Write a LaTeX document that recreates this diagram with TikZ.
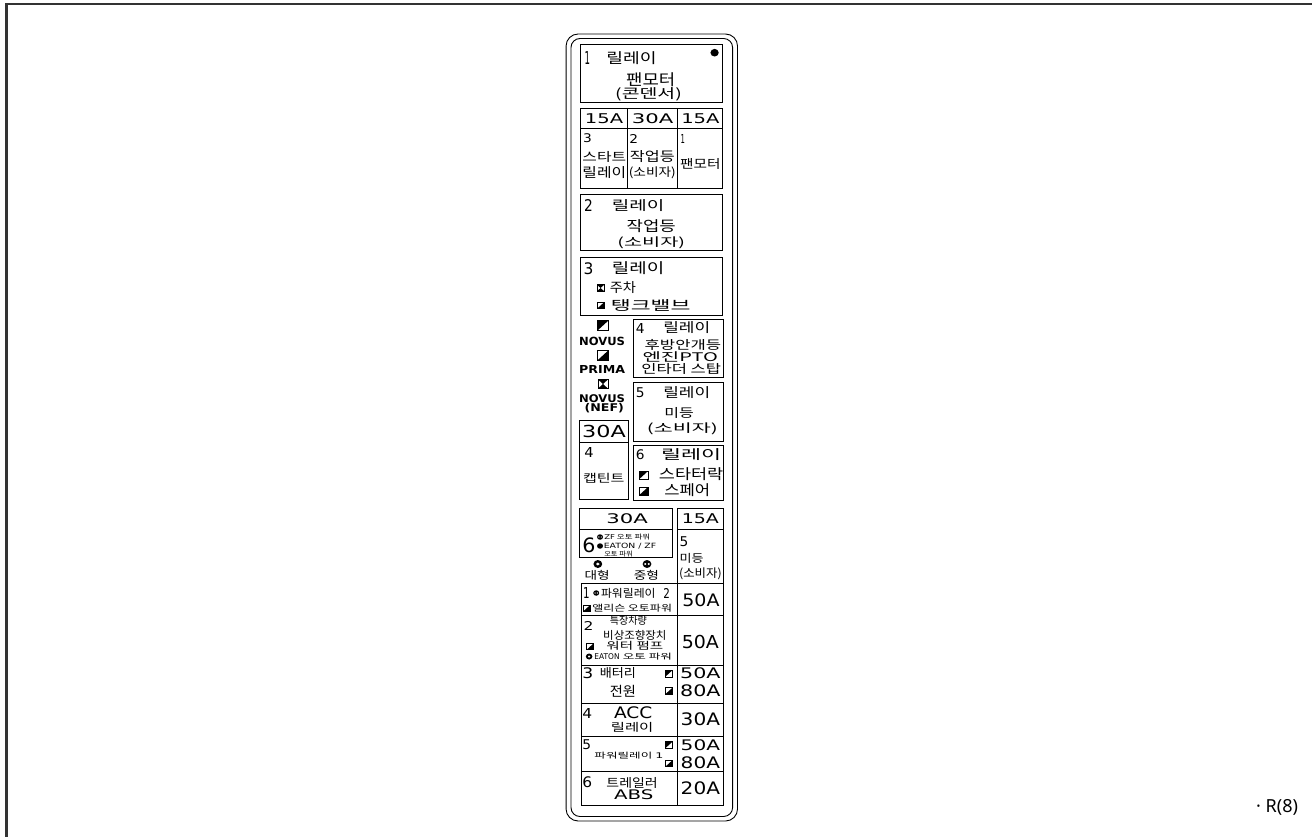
\documentclass[tikz,border=0pt]{standalone}
\usepackage{fontspec}
\usepackage{graphicx}
\setmainfont{Noto Sans CJK KR}
\newfontfamily\lat{DejaVu Sans}
\newfontfamily\latb{DejaVu Sans}[UprightFont=* Bold]
\newfontfamily\ns{Noto Sans}
\newcommand\fit[3]{\resizebox*{#1pt}{#2pt}{#3}}
\newcommand\TX[6]{\node[txt] (#1) at (#2,#3) {\fit{#4}{#5}{#6}};}
\newcommand\LT[6]{\node[txt] (#1) at (#2,#3) {\fit{#4}{#5}{\lat #6}};}
% square markers
\newcommand\mkA[4]{\coordinate (#1) at (#2,#3);
  \fill ([shift={(-#4/2,-#4/2)}]#1) -- ++(#4,0) -- ++(-#4,#4) -- cycle;
  \draw[mkline] ([shift={(-#4/2,-#4/2)}]#1) rectangle ++(#4,#4);}
\newcommand\mkB[4]{\coordinate (#1) at (#2,#3);
  \fill ([shift={(#4/2,-#4/2)}]#1) -- ++(0,#4) -- ++(-#4,0) -- cycle;
  \draw[mkline] ([shift={(-#4/2,-#4/2)}]#1) rectangle ++(#4,#4);}
\newcommand\mkC[4]{\coordinate (#1) at (#2,#3);
  \fill ([shift={(-#4/2,-#4/2)}]#1) -- (#1) -- ([shift={(#4/2,-#4/2)}]#1) -- cycle;
  \fill ([shift={(-#4/2,#4/2)}]#1) -- (#1) -- ([shift={(#4/2,#4/2)}]#1) -- cycle;
  \draw[mkline] ([shift={(-#4/2,-#4/2)}]#1) rectangle ++(#4,#4);}
% circle markers
\newcommand\mkRing[4]{\coordinate (#1) at (#2,#3);
  \fill[even odd rule] (#1) circle (#4/2) (#1) circle (#4/4.5);}
\newcommand\mkDots[4]{\coordinate (#1) at (#2,#3);
  \fill (#1) circle (#4/2);
  \fill[white] ([xshift=-#4/5]#1) circle (#4/8) ([xshift=#4/5]#1) circle (#4/8);}
\newcommand\mkDot[4]{\coordinate (#1) at (#2,#3);
  \fill (#1) circle (#4/2);}
\begin{document}
\begin{tikzpicture}[x=1pt,y=-1pt,
  txt/.style={inner sep=0pt,outer sep=0pt},
  box/.style={draw=black,line width=0.9pt},
  mkline/.style={draw=black,line width=0.7pt},
  panel/.style={draw=black,line width=0.9pt},
  frame/.style={draw=black!80,line width=2.2pt}]
\useasboundingbox (0,0) rectangle (1312,836);
\clip (0,0) rectangle (1312,836);
\fill[white] (0,0) rectangle (1312,836);
% outer page frame
\coordinate (fA) at (6.5,900);
\coordinate (fB) at (6.5,4);
\coordinate (fC) at (1400,4);
\draw[frame] (fA) -- (fB) -- (fC);
% page label
\node[txt,anchor=east] (pl) at (1298,807) {\ns\fontsize{18}{18}\selectfont · R(8)};

\begin{scope}[xshift=-65.1pt,xscale=1.092,transform shape]
% panel
\draw[panel,rounded corners=12pt] (578,34) rectangle (735,821);
\draw[panel,rounded corners=9pt] (582.5,38.5) rectangle (730.5,816.5);

% box 1
\draw[box] (591.5,44.5) rectangle (721.5,102);
\TX{b1n}{597.5}{58.3}{5}{13}{\lat 1}
\TX{b1r}{638}{58.3}{46}{13}{릴레이}
\fill (714,52.7) circle (3.8);
\TX{b1a}{655.5}{79.7}{45}{14}{팬모터}
\TX{b1b}{653.5}{94}{61}{13.5}{(콘덴서)}

% fuse row
\draw[box] (591.5,108.3) rectangle (721.5,188);
\draw[box] (591.5,128.5) -- (721.5,128.5);
\draw[box] (634,108.3) -- (634,188);
\draw[box] (680.3,108.3) -- (680.3,188);
\LT{f1}{612.8}{118.5}{35}{10}{15A}
\LT{f2}{657.2}{118.5}{38}{10}{30A}
\LT{f3}{701}{118.5}{35}{10}{15A}
\LT{c1n}{597.5}{138.5}{8}{9}{3}
\TX{c1a}{613}{156.5}{40}{11}{스타트}
\TX{c1b}{613}{172.5}{40}{12}{릴레이}
\LT{c2n}{640}{138.5}{8}{9}{2}
\TX{c2a}{657}{156.5}{41}{12}{작업등}
\TX{c2b}{657}{172.5}{43}{12}{(소비자)}
\LT{c3n}{685}{138.5}{4}{9}{1}
\TX{c3a}{701}{164}{37}{11}{팬모터}

% box 2 relay
\draw[box] (591.5,194.5) rectangle (721.5,250);
\LT{r2n}{598.5}{205.5}{8}{12}{2}
\TX{r2r}{644}{205.5}{48}{12}{릴레이}
\TX{r2a}{656}{226.5}{45}{13}{작업등}
\TX{r2b}{656}{243}{62}{12}{(소비자)}

% box 3 relay
\draw[box] (591.5,257.5) rectangle (721.5,315);
\LT{r3n}{598.5}{268.5}{9}{12}{3}
\TX{r3r}{644}{268.5}{48}{13}{릴레이}
\mkC{r3m1}{609.5}{288}{6.5}
\TX{r3a}{630}{287.5}{24}{12}{주차}
\mkB{r3m2}{609.5}{305.5}{6.5}
\TX{r3b}{655.5}{306}{73}{12}{탱크밸브}

% left legend column
\mkA{lg1}{611.7}{325.5}{9.5}
\node[txt] (lgt1) at (611,341) {\fit{42}{8.5}{\latb NOVUS}};
\mkB{lg2}{611.7}{355.3}{9.5}
\node[txt] (lgt2) at (611,369) {\fit{42}{8}{\latb PRIMA}};
\mkC{lg3}{611.7}{384}{9}
\node[txt] (lgt3) at (611,398.5) {\fit{42}{8}{\latb NOVUS}};
\node[txt] (lgt4) at (613,407.8) {\fit{36}{9.5}{\latb (NEF)}};

% 30A small box + 4 captain
\draw[box] (590.7,420) rectangle (635,442.5);
\LT{s30}{612.8}{431.5}{40}{12.5}{30A}
\draw[box] (590.7,442.5) rectangle (635,499);
\LT{s4n}{599}{452}{8.5}{10}{4}
\TX{s4a}{612.5}{478}{38}{10}{캡틴트}

% relay 4
\draw[box] (640,319.5) rectangle (722,377);
\LT{r4n}{646}{328.5}{8}{10}{4}
\TX{r4r}{688.5}{328}{43}{12}{릴레이}
\TX{r4a}{685}{344.5}{70}{11}{후방안개등}
\TX{r4b}{682.5}{356.5}{69}{10.5}{엔진PTO}
\TX{r4c}{683.5}{368.5}{73}{11}{인타더 스탑}

% relay 5
\draw[box] (640,382.5) rectangle (722,441);
\LT{r5n}{646}{393}{8}{10}{5}
\TX{r5r}{688.5}{393}{43}{12}{릴레이}
\TX{r5a}{681.5}{412.5}{27}{11}{미등}
\TX{r5b}{684.5}{429}{65}{12}{(소비자)}

% relay 6
\draw[box] (640,445.5) rectangle (722,500.5);
\LT{r6n}{646}{455}{8}{10}{6}
\TX{r6r}{692.5}{455}{55}{12}{릴레이}
\mkA{r6m1}{649}{475}{8}
\TX{r6a}{692.5}{474.5}{59}{13}{스타터락}
\mkB{r6m2}{649}{491}{8}
\TX{r6b}{689}{490}{42}{13}{스페어}

% 30A wide box with 6
\draw[box] (590.7,508.3) rectangle (675,557.3);
\draw[box] (590.7,529) -- (675,529);
\LT{w30}{634}{519}{38}{10}{30A}
\LT{w6n}{599}{545.5}{12}{15}{6}
\mkDots{wm1}{609}{537}{5.5}
\TX{wt1}{634}{537}{42}{6}{{\lat ZF} 오토 파워}
\mkDot{wm2}{609}{546}{5.5}
\LT{wt2}{636.5}{546}{48}{6}{EATON / ZF}
\TX{wt3}{626}{554.5}{26}{6}{오토 파워}
\mkRing{wm3}{607}{564}{8}
\mkDots{wm4}{652}{564}{8}
\TX{wt4}{606.5}{575}{23}{10}{대형}
\TX{wt5}{651.5}{575}{23}{10}{중형}

% 15A right column
\draw[box] (680,583.3) -- (680,508.3) -- (721.7,508.3) -- (721.7,583.3);
\draw[box] (680,529) -- (721.7,529);
\LT{q15}{701}{519}{34}{10}{15A}
\LT{q5n}{686}{542}{8}{10}{5}
\TX{q5a}{693}{558}{22}{10}{미등}
\TX{q5b}{701}{574}{39}{12}{(소비자)}

% bottom table
\draw[box] (591.7,583.3) rectangle (721.7,805);
\draw[box] (680,583.3) -- (680,805);
\foreach \yy in {615.7,665,703.3,736.7,771} {\draw[box] (591.7,\yy) -- (721.7,\yy);}
% row 1
\LT{t1n}{596.5}{592.5}{6}{11}{1}
\mkDots{t1m1}{605.5}{593}{5.5}
\TX{t1a}{635}{593}{50}{10}{파워릴레이}
\LT{t1b}{670}{593}{6}{10}{2}
\mkB{t1m2}{597}{608}{6}
\TX{t1c}{638.5}{608}{73}{8}{앨리슨 오토파워}
\LT{t1f}{701.5}{600}{34}{13}{50A}
% row 2
\LT{t2n}{598.5}{625.5}{9}{9}{2}
\TX{t2a}{635}{620.5}{34}{9.5}{특장차량}
\TX{t2b}{641}{635}{58}{10}{비상조향장치}
\mkB{t2m1}{600}{646.5}{6.5}
\TX{t2c}{641}{645.5}{52}{9}{워터 펌프}
\mkRing{t2m2}{599}{656.5}{6}
\LT{t2d}{615.5}{656.5}{23}{6}{EATON}
\TX{t2e}{652.5}{656.5}{45}{7}{오토 파워}
\LT{t2f}{701}{642}{34}{13.5}{50A}
% row 3
\LT{t3n}{598}{673}{10}{11}{3}
\TX{t3a}{625.5}{673}{33}{11}{배터리}
\mkA{t3m1}{672}{673.5}{7}
\LT{t3f}{701}{673.5}{37}{11}{50A}
\TX{t3b}{630}{691}{24}{12}{전원}
\mkB{t3m2}{672}{691}{7}
\LT{t3g}{701}{691}{37}{12}{80A}
% row 4
\LT{t4n}{597.5}{713}{9}{10}{4}
\LT{t4a}{639.5}{713}{35}{12}{ACC}
\TX{t4b}{638.5}{727}{39}{10}{릴레이}
\LT{t4f}{701}{719.5}{36}{13}{30A}
% row 5
\LT{t5n}{597}{745}{8}{10}{5}
\TX{t5a}{635.5}{755.5}{63}{7}{파워릴레이 {\lat 1}}
\mkA{t5m1}{672}{745}{6.5}
\mkB{t5m2}{672}{763.5}{6.5}
\LT{t5f}{701}{745.5}{36}{11}{50A}
\LT{t5g}{701}{763}{36}{12}{80A}
% row 6
\LT{t6n}{597.5}{782.5}{9}{11}{6}
\TX{t6a}{638.5}{782.5}{47}{11}{트레일러}
\LT{t6b}{640}{795}{36}{10}{ABS}
\LT{t6f}{701}{788.5}{36}{13}{20A}
\end{scope}
\end{tikzpicture}
\end{document}
